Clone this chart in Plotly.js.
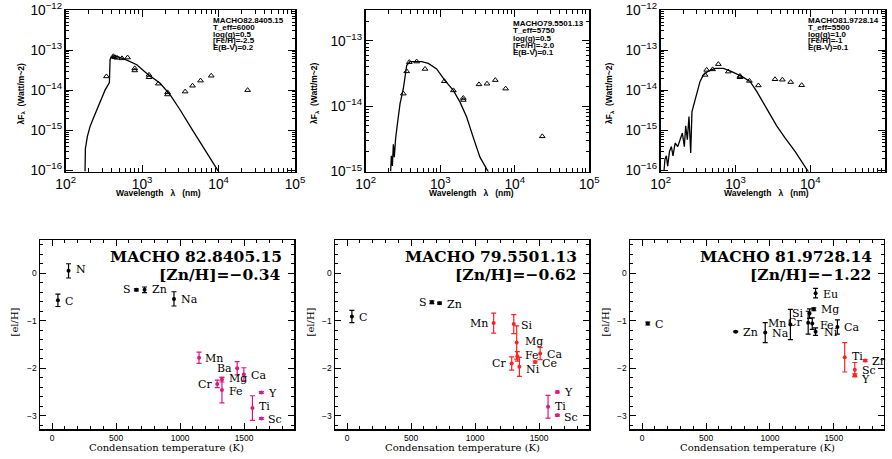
<!DOCTYPE html>
<html><head><meta charset="utf-8">
<script src="https://cdn.plot.ly/plotly-3.0.1.min.js"></script>
<style>html,body{margin:0;padding:0;background:#fff}#chart{width:892px;height:459px}</style>
</head><body><div id="chart"></div>
<script>
// ---------- SED panels (wavelength nm, lambda*F_lambda W/m^2) ----------
const sed1Star = "MACHO82.8405.15";
const sed1Params = ["T_eff=6000", "log(g)=0.5", "[Fe/H]=-2.5", "E(B-V)=0.2"];
const sed1ModelWave = [179,181,192,208,230,255,282,327,373,381,413,490,630,851,1151,1722,2328,3148,4477,5754,7780,10300];
const sed1ModelFlux = [9.3e-17,3.5e-16,6.9e-16,1.23e-15,2.0e-15,3.2e-15,5.1e-15,1.0e-14,1.55e-14,5.9e-14,7.2e-14,6.8e-14,5.6e-14,4.3e-14,2.6e-14,1.48e-14,7.6e-15,3.2e-15,1.07e-15,5.0e-16,2.0e-16,8.5e-17];
const sed1ObsWave = [341,420,440,470,545,645,800,800,1230,1230,1630,2150,2150,3650,4560,5810,8020,24000];
const sed1ObsFlux = [2.2e-14,7.0e-14,6.6e-14,6.4e-14,6.2e-14,6.5e-14,3.5e-14,3.1e-14,2.4e-14,2.1e-14,1.45e-14,8.8e-15,7.8e-15,9.2e-15,1.29e-14,1.73e-14,2.29e-14,1.0e-14];

const sed2Star = "MACHO79.5501.13";
const sed2Params = ["T_eff=5750", "log(g)=0.5", "[Fe/H]=-2.0", "E(B-V)=0.1"];
const sed2ModelWave = [216,221,228,235,242,252,266,289,320,344,355,393,459,564,692,895,1159,1500,1842,2261,2779,3412,4500];
const sed2ModelFlux = [1.0e-15,1.74e-15,1.22e-15,2.6e-15,1.65e-15,3.2e-15,5.3e-15,1.09e-14,1.86e-14,3.2e-14,4.2e-14,4.8e-14,4.8e-14,4.8e-14,4.5e-14,3.7e-14,2.46e-14,1.74e-14,1.15e-14,6.8e-15,3.3e-15,1.66e-15,0.95e-15];
const sed2ObsWave = [320,355,385,483,625,1135,1500,2040,2040,3310,4240,5480,7540,23400];
const sed2ObsFlux = [1.55e-14,3.4e-14,4.7e-14,4.8e-14,3.7e-14,2.4e-14,1.74e-14,1.33e-14,1.24e-14,2.15e-14,2.2e-14,2.5e-14,1.85e-14,3.45e-15];

const sed3Star = "MACHO81.9728.14";
const sed3Params = ["T_eff=5500", "log(g)=1.0", "[Fe/H]=-1", "E(B-V)=0.1"];
const sed3ModelWave = [111,114,119,124,131,139,146,156,169,181,195,207,216,227,239,252,262,273,303,336,372,434,533,689,891,1211,1566,1923,2361,2899,3559,4603,6266,9700];
const sed3ModelFlux = [1.0e-16,1.9e-16,2.3e-16,1.26e-16,2.95e-16,3.9e-16,2.3e-16,4.8e-16,3.9e-16,6.0e-16,8.5e-16,3.9e-16,1.29e-15,5.8e-16,2.2e-15,2.7e-16,2.9e-15,3.9e-15,8.4e-15,1.65e-14,2.4e-14,3.0e-14,3.5e-14,3.5e-14,2.9e-14,2.2e-14,1.65e-14,9.3e-15,4.8e-15,2.45e-15,1.29e-15,6.4e-16,2.95e-16,8.5e-17];
const sed3ObsWave = [392,412,495,590,803,1151,1151,1535,2024,3380,4240,5480,7690];
const sed3ObsFlux = [2.4e-14,3.2e-14,3.3e-14,4.45e-14,2.9e-14,2.25e-14,2.1e-14,1.7e-14,1.31e-14,1.87e-14,1.82e-14,1.59e-14,1.33e-14];

// ---------- Abundance panels ----------
const ab1Title = "MACHO 82.8405.15", ab1Zn = "[Zn/H]=\u22120.34";
const ab1Names = ['C','N','S','Zn','Na','Mn','Cr','Mg','Fe','Ba','Ca','Ti','Y','Sc'];
const ab1Tc    = [45,128,658,722,952,1148,1290,1327,1327,1446,1498,1565,1635,1635];
const ab1Val   = [-0.57,0.05,-0.35,-0.35,-0.54,-1.78,-2.33,-2.24,-2.46,-2.0,-2.13,-2.84,-2.51,-3.06];
const ab1Err   = [0.13,0.15,0.02,0.06,0.15,0.12,0.08,0.05,0.27,0.14,0.14,0.26,0.02,0.02];
const ab1Group = [0,0,0,0,0,2,2,2,2,2,2,2,2,2];

const ab2Title = "MACHO 79.5501.13", ab2Zn = "[Zn/H]=\u22120.62";
const ab2Names = ['C','S','Zn','Mn','Si','Cr','Mg','Fe','Ni','Ce','Ca','Ti','Y','Sc'];
const ab2Tc    = [37,662,722,1145,1302,1286,1325,1330,1346,1469,1508,1570,1643,1643];
const ab2Val   = [-0.91,-0.61,-0.63,-1.05,-1.07,-1.90,-1.46,-1.75,-1.97,-1.87,-1.69,-2.81,-2.50,-2.99];
const ab2Err   = [0.13,0.03,0.02,0.21,0.20,0.14,0.35,0.10,0.20,0.02,0.13,0.24,0.02,0.02];
const ab2Group = [0,0,0,1,1,1,1,1,1,1,1,2,2,2];

const ab3Title = "MACHO 81.9728.14", ab3Zn = "[Zn/H]=\u22121.22";
const ab3Names = ['C','Zn','Na','Mn','Cr','Si','Fe','Mg','Eu','Ni','Ca','Ti','Sc','Y','Zr'];
const ab3Tc    = [44,732,963,1160,1299,1310,1331,1343,1357,1357,1528,1585,1664,1664,1745];
const ab3Val   = [-1.06,-1.23,-1.25,-1.08,-1.04,-0.85,-1.06,-0.76,-0.42,-1.23,-1.13,-1.77,-2.03,-2.15,-1.84];
const ab3Err   = [0.03,0.01,0.21,0.32,0.24,0.10,0.12,0.03,0.10,0.08,0.15,0.31,0.15,0.03,0.02];
const ab3Group = [0,0,0,0,0,0,0,0,0,0,0,1,1,1,1];

// label offsets (px) – styling only
const lab1Dx = [5,5,-3,5,5,4,-3,5,5,-3,5,5,5,5];
const lab1Dy = [-1,1,0,0,-1,-1,-1,1,-1,0,-1,2,-1,-1];
const lab2Dx = [5,-3,5,-4,5,-4,6,6,5,5,5,5,5,5];
const lab2Dy = [-1,0,-1,0,-1,0,1,1,-3,-1,-1,0,-1,-2];
const lab3Dx = [5,5,5,-2,-4,-4,6,5,5,6,5,5,5,4,5];
const lab3Dy = [-1,-1,-1,1,0,0,-2,0,-1,-1,-1,1,-1,-4,-1];

const groupColors = ['#000000', '#ff2020', '#e0157f'];

const W = 892, H = 459;
const px = v => v / W, py = v => 1 - v / H;

const traces = [];
const annotations = [];

function sedPanel(n, mw, mf, ow, of) {
  const xa = n === 1 ? 'x' : 'x' + n, ya = n === 1 ? 'y' : 'y' + n;
  traces.push({x: mw, y: mf, xaxis: xa, yaxis: ya, type: 'scatter', mode: 'lines',
    line: {color: '#000', width: 1.3}, hoverinfo: 'skip'});
  traces.push({x: ow, y: of, xaxis: xa, yaxis: ya, type: 'scatter', mode: 'markers',
    marker: {symbol: 'triangle-up-open', size: 5, color: '#000', line: {width: 1, color: '#000'}}});
}
sedPanel(1, sed1ModelWave, sed1ModelFlux, sed1ObsWave, sed1ObsFlux);
sedPanel(2, sed2ModelWave, sed2ModelFlux, sed2ObsWave, sed2ObsFlux);
sedPanel(3, sed3ModelWave, sed3ModelFlux, sed3ObsWave, sed3ObsFlux);

function abPanel(n, names, tc, val, err, grp, dx, dy) {
  const xa = 'x' + n, ya = 'y' + n;
  [0, 1, 2].forEach(g => {
    const idx = names.map((_, i) => i).filter(i => grp[i] === g);
    if (!idx.length) return;
    traces.push({x: idx.map(i => tc[i]), y: idx.map(i => val[i]), xaxis: xa, yaxis: ya,
      type: 'scatter', mode: 'markers', marker: {size: 4, color: groupColors[g]},
      error_y: {type: 'data', array: idx.map(i => err[i]), visible: true,
        color: groupColors[g], thickness: 1.2, width: 2.5}});
  });
  names.forEach((nm, i) => {
    annotations.push({xref: xa, yref: ya, x: tc[i], y: val[i], text: nm, showarrow: false,
      xanchor: dx[i] < 0 ? 'right' : 'left', yanchor: 'middle', xshift: dx[i], yshift: dy[i],
      font: {family: 'DejaVu Serif', size: 11, color: '#000'}});
  });
}
abPanel(4, ab1Names, ab1Tc, ab1Val, ab1Err, ab1Group, lab1Dx, lab1Dy);
abPanel(5, ab2Names, ab2Tc, ab2Val, ab2Err, ab2Group, lab2Dx, lab2Dy);
abPanel(6, ab3Names, ab3Tc, ab3Val, ab3Err, ab3Group, lab3Dx, lab3Dy);

// text blocks for SED panels
function infoBlock(x0, y0, dy, star, params) {
  [star].concat(params).forEach((t, i) => {
    annotations.push({xref: 'paper', yref: 'paper', x: px(x0), y: py(y0 + i * dy), text: t,
      showarrow: false, xanchor: 'left', yanchor: 'middle', borderpad: 0,
      font: {family: 'Liberation Sans', size: 8, color: '#000', weight: 'bold'}});
  });
}
infoBlock(212, 20.5, 6.8, sed1Star, sed1Params);
infoBlock(512, 23.5, 7.3, sed2Star, sed2Params);
infoBlock(807, 20.5, 6.8, sed3Star, sed3Params);

const sansB = {family: 'Liberation Sans', size: 8.5, color: '#000', weight: 'bold'};
[158, 471, 766].forEach(xc => {
  annotations.push({xref: 'paper', yref: 'paper', x: px(xc), y: py(192.5), showarrow: false,
    text: 'Wavelength   \u03bb   (nm)', xanchor: 'center', yanchor: 'middle', font: sansB});
});
[21.5, 315, 610].forEach(xc => {
  annotations.push({xref: 'paper', yref: 'paper', x: px(xc), y: py(94), showarrow: false,
    text: '\u03bbF<sub>\u03bb</sub>  (Watt/m~2)', textangle: -90, xanchor: 'center', yanchor: 'middle', font: sansB});
});

const serif = {family: 'DejaVu Serif', size: 10, color: '#000'};
[166.7, 462, 757.5].forEach(xc => {
  annotations.push({xref: 'paper', yref: 'paper', x: px(xc), y: py(447.5), showarrow: false,
    text: 'Condensation temperature (K)', xanchor: 'center', yanchor: 'middle', font: serif});
});
[14, 310, 605].forEach(xc => {
  annotations.push({xref: 'paper', yref: 'paper', x: px(xc), y: py(322.5), showarrow: false,
    text: '[el/H]', textangle: -90, xanchor: 'center', yanchor: 'middle', font: serif});
});
const titleFont = {family: 'DejaVu Serif', size: 15.5, color: '#000', weight: 'bold'};
[[284, ab1Title, 282, ab1Zn], [579.3, ab2Title, 578, ab2Zn], [874.3, ab3Title, 873, ab3Zn]].forEach(([x1, t1, x2, t2]) => {
  annotations.push({xref: 'paper', yref: 'paper', x: px(x1), y: py(256.5), showarrow: false,
    text: t1, xanchor: 'right', yanchor: 'middle', font: titleFont});
  annotations.push({xref: 'paper', yref: 'paper', x: px(x2), y: py(274.5), showarrow: false,
    text: t2, xanchor: 'right', yanchor: 'middle', font: titleFont});
});

function logX(x0, x1, anchor) {
  return {domain: [px(x0), px(x1)], anchor: anchor, type: 'log', range: [2, 5], dtick: 1,
    exponentformat: 'power', ticks: 'inside', ticklen: 7, tickwidth: 1, tickcolor: '#000',
    showline: true, linewidth: 1.5, linecolor: '#000', mirror: 'ticks', showgrid: false, zeroline: false,
    tickfont: {family: 'Liberation Sans', size: 11, color: '#000'},
    minor: {ticks: 'inside', ticklen: 3.5, tickwidth: 1, tickcolor: '#000', dtick: 'D1', showgrid: false}};
}
function logY(range, anchor) {
  return {domain: [py(171.5), py(10)], anchor: anchor, type: 'log', range: range, dtick: 1,
    exponentformat: 'power', ticks: 'inside', ticklen: 7, tickwidth: 1, tickcolor: '#000',
    showline: true, linewidth: 1.5, linecolor: '#000', mirror: 'ticks', showgrid: false, zeroline: false,
    tickfont: {family: 'Liberation Sans', size: 11, color: '#000'},
    minor: {ticks: 'inside', ticklen: 3.5, tickwidth: 1, tickcolor: '#000', dtick: 'D1', showgrid: false}};
}
function linX(x0, x1, anchor) {
  return {domain: [px(x0), px(x1)], anchor: anchor, range: [-95, 1890], tick0: 0, dtick: 500,
    ticks: 'inside', ticklen: 6, tickwidth: 1, tickcolor: '#000',
    showline: true, linewidth: 1.5, linecolor: '#000', mirror: 'ticks', showgrid: false, zeroline: false,
    tickfont: {family: 'Liberation Sans', size: 8.5, color: '#000'},
    minor: {ticks: 'inside', ticklen: 3, tickwidth: 1, tickcolor: '#000', dtick: 100, showgrid: false}};
}
function linY(anchor) {
  return {domain: [py(429), py(240)], anchor: anchor, range: [-3.28, 0.70], tick0: 0, dtick: 1,
    ticks: 'inside', ticklen: 6, tickwidth: 1, tickcolor: '#000',
    showline: true, linewidth: 1.5, linecolor: '#000', mirror: 'ticks', showgrid: false, zeroline: false,
    tickfont: {family: 'Liberation Sans', size: 8.5, color: '#000'},
    minor: {ticks: 'inside', ticklen: 3, tickwidth: 1, tickcolor: '#000', dtick: 0.2, showgrid: false}};
}

const layout = {
  width: W, height: H, margin: {l: 0, r: 0, t: 0, b: 0},
  paper_bgcolor: '#fff', plot_bgcolor: '#fff', showlegend: false,
  xaxis: logX(65.7, 295, 'y'), yaxis: logY([-16.03, -12], 'x'),
  xaxis2: logX(365.7, 589.3, 'y2'), yaxis2: logY([-15.0, -12.53], 'x2'),
  xaxis3: logX(660.7, 885, 'y3'), yaxis3: logY([-16.03, -12], 'x3'),
  xaxis4: linX(40, 294, 'y4'), yaxis4: linY('x4'),
  xaxis5: linX(335, 589, 'y5'), yaxis5: linY('x5'),
  xaxis6: linX(630, 883.7, 'y6'), yaxis6: linY('x6'),
  annotations: annotations
};

Plotly.newPlot('chart', traces, layout, {staticPlot: true, displayModeBar: false});
</script></body></html>
